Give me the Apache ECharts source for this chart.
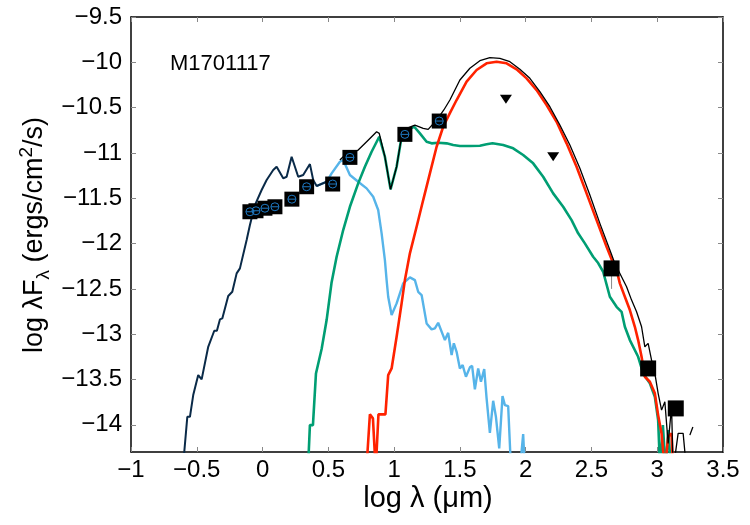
<!DOCTYPE html>
<html>
<head>
<meta charset="utf-8">
<script src="https://cdn.jsdelivr.net/npm/echarts@6/dist/echarts.min.js"></script>
<style>
html, body { margin: 0; padding: 0; background: #fff; }
#main { width: 750px; height: 525px; }
</style>
</head>
<body>
<div id="main"></div>
<script>
// SED of M1701117: log(lambda/um) vs log(lambda*F_lambda)
var xTicks = [-1, -0.5, 0, 0.5, 1, 1.5, 2, 2.5, 3, 3.5];
var yTicks = [-14, -13.5, -13, -12.5, -12, -11.5, -11, -10.5, -10, -9.5];

// photosphere (dark)
var starDark = [[-0.607,-14.5],[-0.572,-13.912],[-0.552,-13.912],[-0.527,-13.672],[-0.489,-13.451],[-0.463,-13.499],
  [-0.413,-13.139],[-0.367,-12.962],[-0.347,-12.962],[-0.324,-12.837],[-0.306,-12.826],[-0.261,-12.579],[-0.230,-12.532],
  [-0.197,-12.329],[-0.172,-12.274],[-0.121,-11.961],[-0.096,-11.796],[-0.058,-11.575],[-0.007,-11.409],[0.031,-11.299],
  [0.081,-11.189],[0.107,-11.152],[0.157,-11.280],[0.183,-11.263],[0.221,-11.042],[0.271,-11.263],[0.309,-11.244],
  [0.360,-11.123],[0.385,-11.299],[0.411,-11.365],[0.487,-11.318]];

// stellar model (light blue)
var starLight = [[0.411,-11.365],[0.487,-11.318],[0.525,-11.225],[0.588,-11.097],[0.613,-11.078],[0.664,-11.244],
  [0.727,-11.318],[0.791,-11.391],[0.841,-11.483],[0.879,-11.630],[0.905,-11.887],[0.930,-12.182],[0.943,-12.403],
  [0.955,-12.587],[0.981,-12.789],[1.019,-12.660],[1.069,-12.439],[1.120,-12.373],[1.158,-12.403],[1.183,-12.532],
  [1.209,-12.568],[1.247,-12.881],[1.285,-12.947],[1.310,-12.936],[1.335,-12.874],[1.386,-13.065],[1.411,-12.985],
  [1.437,-13.231],[1.454,-13.101],[1.475,-13.194],[1.500,-13.378],[1.521,-13.341],[1.546,-13.470],[1.576,-13.366],
  [1.593,-13.349],[1.614,-13.609],[1.639,-13.378],[1.660,-13.525],[1.685,-13.385],[1.703,-13.709],[1.728,-14.088],
  [1.753,-13.735],[1.774,-13.912],[1.799,-14.260],[1.824,-13.683],[1.842,-13.783],[1.867,-13.794],[1.889,-14.5],
  [1.956,-14.5],[1.981,-14.103],[1.994,-14.5]];

// warm component (green)
var warmDust = [[0.345,-14.5],[0.360,-14.003],[0.383,-14.003],[0.406,-13.433],[0.449,-13.164],[0.487,-12.844],
  [0.524,-12.436],[0.563,-12.146],[0.613,-11.851],[0.664,-11.594],[0.727,-11.336],[0.778,-11.152],[0.829,-10.987],
  [0.887,-10.821],[0.930,-11.042],[0.973,-11.402],[1.019,-11.152],[1.057,-10.821],[1.095,-10.747],[1.153,-10.711],
  [1.196,-10.784],[1.247,-10.876],[1.285,-10.894],[1.335,-10.887],[1.399,-10.894],[1.449,-10.913],[1.500,-10.924],
  [1.576,-10.924],[1.652,-10.921],[1.703,-10.905],[1.748,-10.894],[1.829,-10.913],[1.905,-10.949],[1.981,-11.023],
  [2.057,-11.115],[2.133,-11.263],[2.209,-11.446],[2.285,-11.594],[2.349,-11.741],[2.399,-11.887],[2.450,-11.998],
  [2.513,-12.146],[2.551,-12.215],[2.589,-12.311],[2.640,-12.587],[2.691,-12.698],[2.729,-12.753],[2.754,-12.918],
  [2.792,-13.065],[2.855,-13.249],[2.893,-13.433],[2.944,-13.543],[2.982,-13.691],[3.007,-13.948],[3.022,-14.5],
  [3.043,-14.003],[3.064,-14.5],[3.084,-14.058],[3.105,-14.5],[3.30,-14.5]];

// cold component (red)
var coldDust = [[0.789,-14.5],[0.816,-13.885],[0.839,-13.929],[0.860,-14.5],[0.872,-14.5],[0.881,-13.885],
  [0.934,-13.885],[0.955,-13.451],[0.981,-13.378],[1.019,-13.029],[1.057,-12.660],[1.082,-12.403],[1.120,-12.108],
  [1.171,-11.815],[1.221,-11.520],[1.272,-11.225],[1.323,-10.932],[1.373,-10.711],[1.424,-10.560],[1.475,-10.416],
  [1.551,-10.214],[1.627,-10.085],[1.703,-10.011],[1.779,-9.993],[1.855,-10.011],[1.931,-10.077],[2.007,-10.177],
  [2.083,-10.306],[2.159,-10.471],[2.235,-10.656],[2.311,-10.894],[2.387,-11.152],[2.463,-11.446],[2.539,-11.741],
  [2.615,-12.035],[2.666,-12.219],[2.691,-12.292],[2.716,-12.439],[2.754,-12.587],[2.792,-12.734],[2.830,-12.918],
  [2.855,-13.065],[2.881,-13.249],[2.906,-13.470],[2.944,-13.525],[2.982,-13.653],[3.007,-13.893],[3.033,-14.095],
  [3.058,-14.5],[3.083,-14.132],[3.109,-14.095],[3.121,-14.5],[3.30,-14.5]];

// total model (black)
var totalModel = [[0.588,-11.078],[0.613,-11.042],[0.727,-10.968],[0.791,-10.876],[0.867,-10.766],[0.887,-10.784],
  [0.930,-11.042],[0.973,-11.402],[1.019,-11.152],[1.057,-10.821],[1.095,-10.728],[1.158,-10.692],[1.221,-10.728],
  [1.259,-10.740],[1.323,-10.637],[1.378,-10.526],[1.424,-10.416],[1.500,-10.195],[1.576,-10.066],[1.652,-9.982],
  [1.728,-9.949],[1.804,-9.956],[1.880,-9.993],[1.956,-10.077],[2.032,-10.177],[2.108,-10.324],[2.184,-10.490],
  [2.260,-10.692],[2.336,-10.913],[2.412,-11.170],[2.488,-11.465],[2.564,-11.777],[2.640,-12.072],[2.678,-12.219],
  [2.703,-12.292],[2.767,-12.477],[2.805,-12.624],[2.843,-12.753],[2.881,-12.918],[2.906,-13.139],[2.931,-13.101],
  [2.957,-13.286],[2.982,-13.433],[3.007,-13.653],[3.033,-13.838],[3.058,-13.746],[3.083,-14.205],[3.109,-13.801],
  [3.121,-14.5],[3.159,-14.095],[3.197,-14.095],[3.223,-14.5]];
var totalTail = [[3.248,-14.114],[3.271,-14.025]];

// photometry
var photOptical = [[-0.096,-11.649],[-0.05,-11.638],[0.018,-11.61],[0.094,-11.594],[0.223,-11.51],
  [0.335,-11.373],[0.533,-11.343],[0.664,-11.049],[1.082,-10.795],[1.343,-10.648]];
var photFar = [[2.653,-12.274],[2.931,-13.378],[3.141,-13.819]];
var upperLimits = [[1.85,-10.408],[2.209,-11.042]];
var errBar = [[2.653,-12.27],[2.653,-12.5]];

var FONT = '"Liberation Sans", Arial, Helvetica, sans-serif';
var minus = function (v) { return String(v).replace('-', '\u2212'); };

var chart = echarts.init(document.getElementById('main'));

function lineSeries(data, color, width, z) {
  return {
    type: 'line', data: data, symbol: 'none', z: z, clip: true,
    lineStyle: { color: color, width: width }
  };
}

var axisLine = { onZero: false, lineStyle: { color: '#000', width: 1.5 } };
var tick = { inside: true, length: 5, lineStyle: { color: '#888' } };

var option = {
  animation: false,
  grid: { left: 131, right: 27, top: 17, bottom: 73 },
  xAxis: [{
    type: 'value', min: -1, max: 3.5, interval: 0.5,
    axisLine: axisLine, axisTick: tick,
    axisLabel: { margin: 6, fontSize: 24, fontFamily: FONT, color: '#000', formatter: minus },
    splitLine: { show: false }
  }, {
    type: 'value', position: 'top', min: -1, max: 3.5, interval: 0.5,
    axisLine: axisLine, axisTick: tick,
    axisLabel: { show: false },
    splitLine: { show: false }
  }],
  yAxis: [{
    type: 'value', min: -14.3, max: -9.5,
    axisLine: axisLine,
    axisTick: { inside: true, length: 5, lineStyle: { color: '#888' }, customValues: yTicks },
    axisLabel: { margin: 9, fontSize: 24, fontFamily: FONT, color: '#000', formatter: minus, customValues: yTicks },
    splitLine: { show: false }
  }, {
    type: 'value', position: 'right', min: -14.3, max: -9.5,
    axisLine: axisLine,
    axisTick: { inside: true, length: 5, lineStyle: { color: '#888' }, customValues: yTicks },
    axisLabel: { show: false, customValues: yTicks },
    splitLine: { show: false }
  }],
  graphic: [{
    type: 'text', left: 170, top: 53,
    style: { text: 'M1701117', fontSize: 22, fontFamily: FONT, fill: '#000' }
  }, {
    type: 'text', x: 428, y: 499,
    style: { text: 'log \u03bb (\u03bcm)', fontSize: 29, fontFamily: FONT, fill: '#000', align: 'center', verticalAlign: 'middle' }
  }, {
    type: 'text', x: 35, y: 235, rotation: Math.PI / 2,
    style: {
      text: '{a|log \u03bbF}{b|\u03bb}{a| (ergs/cm}{c|2}{a|/s)}',
      align: 'center', verticalAlign: 'middle', fill: '#000',
      rich: {
        a: { fontSize: 27, fontFamily: FONT, lineHeight: 36 },
        b: { fontSize: 19, fontFamily: FONT, lineHeight: 17, verticalAlign: 'bottom' },
        c: { fontSize: 19, fontFamily: FONT, lineHeight: 17, verticalAlign: 'top' }
      }
    }
  }],
  series: [
    lineSeries(starLight, '#56b4e9', 2.4, 2),
    lineSeries(warmDust, '#009e73', 2.6, 3),
    lineSeries(coldDust, '#ff2200', 2.6, 4),
    lineSeries(totalModel, '#000000', 1.3, 5),
    lineSeries(totalTail, '#000000', 1.3, 5),
    lineSeries(starDark, '#0a2a48', 2, 6),
    lineSeries(errBar, '#888888', 1, 7),
    {
      type: 'scatter', data: photOptical, z: 8,
      symbol: 'rect', symbolSize: 15, itemStyle: { color: '#000', opacity: 1 }
    },
    {
      type: 'scatter', data: photFar, z: 8,
      symbol: 'rect', symbolSize: 16, itemStyle: { color: '#000', opacity: 1 }
    },
    {
      type: 'scatter', data: photOptical, z: 9,
      symbol: 'path://M0,10 A10,10 0 1 1 20,10 A10,10 0 1 1 0,10 Z M0,10 L20,10',
      symbolSize: 8,
      itemStyle: { color: 'none', borderColor: '#1f78c1', borderWidth: 1, opacity: 1 }
    },
    {
      type: 'scatter', data: upperLimits, z: 8,
      symbol: 'triangle', symbolRotate: 180, symbolSize: [12, 9],
      itemStyle: { color: '#000', opacity: 1 }
    }
  ]
};

chart.setOption(option);
</script>
</body>
</html>
